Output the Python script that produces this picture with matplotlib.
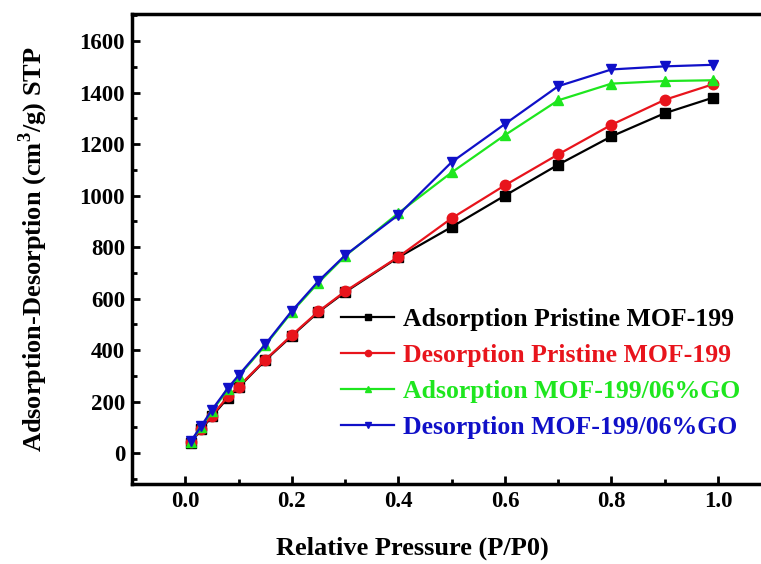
import matplotlib.pyplot as plt
from matplotlib.ticker import MultipleLocator

plt.rcParams['font.family'] = ['Liberation Serif', 'DejaVu Serif']
plt.rcParams['font.weight'] = 'bold'
plt.rcParams['mathtext.fontset'] = 'custom'
plt.rcParams['mathtext.rm'] = 'Liberation Serif:bold'
plt.rcParams['mathtext.bf'] = 'Liberation Serif:bold'

# relative pressure points
p = [0.01, 0.03, 0.05, 0.08, 0.10, 0.15, 0.20, 0.25, 0.30, 0.40, 0.50, 0.60, 0.70, 0.80, 0.90, 0.99]

ads_pristine = [40, 92, 142, 215, 255, 360, 455, 548, 625, 760, 878, 1000, 1120, 1230, 1320, 1380]
des_pristine = [42, 95, 145, 220, 258, 362, 458, 550, 628, 762, 912, 1040, 1160, 1275, 1372, 1432]
ads_go = [42, 102, 162, 248, 298, 418, 548, 662, 765, 932, 1090, 1235, 1370, 1435, 1445, 1448]
des_go = [45, 105, 168, 252, 302, 422, 552, 668, 768, 925, 1130, 1278, 1425, 1490, 1502, 1508]

labels = ['Adsorption Pristine MOF-199', 'Desorption Pristine MOF-199',
          'Adsorption MOF-199/06%GO', 'Desorption MOF-199/06%GO']
colors = ['black', '#e8141c', '#1ee61e', '#1010c8']
markers = ['s', 'o', '^', 'v']

fig = plt.figure(figsize=(7.61, 5.64), dpi=100)
ax = fig.add_axes([0.1735, 0.142, 0.84, 0.833])

series = [ads_pristine, des_pristine, ads_go, des_go]
for y, lab, c, m in zip(series, labels, colors, markers):
    ax.plot(p, y, color=c, marker=m, markersize=7.5, linewidth=1.6, label=lab)

ax.set_xlim(-0.1, 1.1)
ax.set_ylim(-120, 1705)
ax.xaxis.set_major_locator(MultipleLocator(0.2))
ax.xaxis.set_minor_locator(MultipleLocator(0.1))
ax.yaxis.set_major_locator(MultipleLocator(200))
ax.yaxis.set_minor_locator(MultipleLocator(100))
ax.tick_params(which='both', direction='in', width=2, labelsize=16.5)
ax.tick_params(which='major', length=6, pad=5)
ax.tick_params(which='minor', length=3.5)
for s in ax.spines.values():
    s.set_linewidth(2.5)

ax.set_xlabel('Relative Pressure (P/P0)', fontsize=19, fontweight='bold')
ax.xaxis.set_label_coords(0.438, -0.112)
ax.set_ylabel(r'Adsorption-Desorption (cm$^3$/g) STP', fontsize=19, fontweight='bold', labelpad=21)

leg = ax.legend(loc='upper left', bbox_to_anchor=(0.291, 0.423), frameon=False,
                fontsize=18.5, handlelength=2.05, labelspacing=0.5, handletextpad=0.35,
                markerscale=0.6)
for txt, c in zip(leg.get_texts(), colors):
    txt.set_color(c)

fig.savefig('out.png', dpi=100)
